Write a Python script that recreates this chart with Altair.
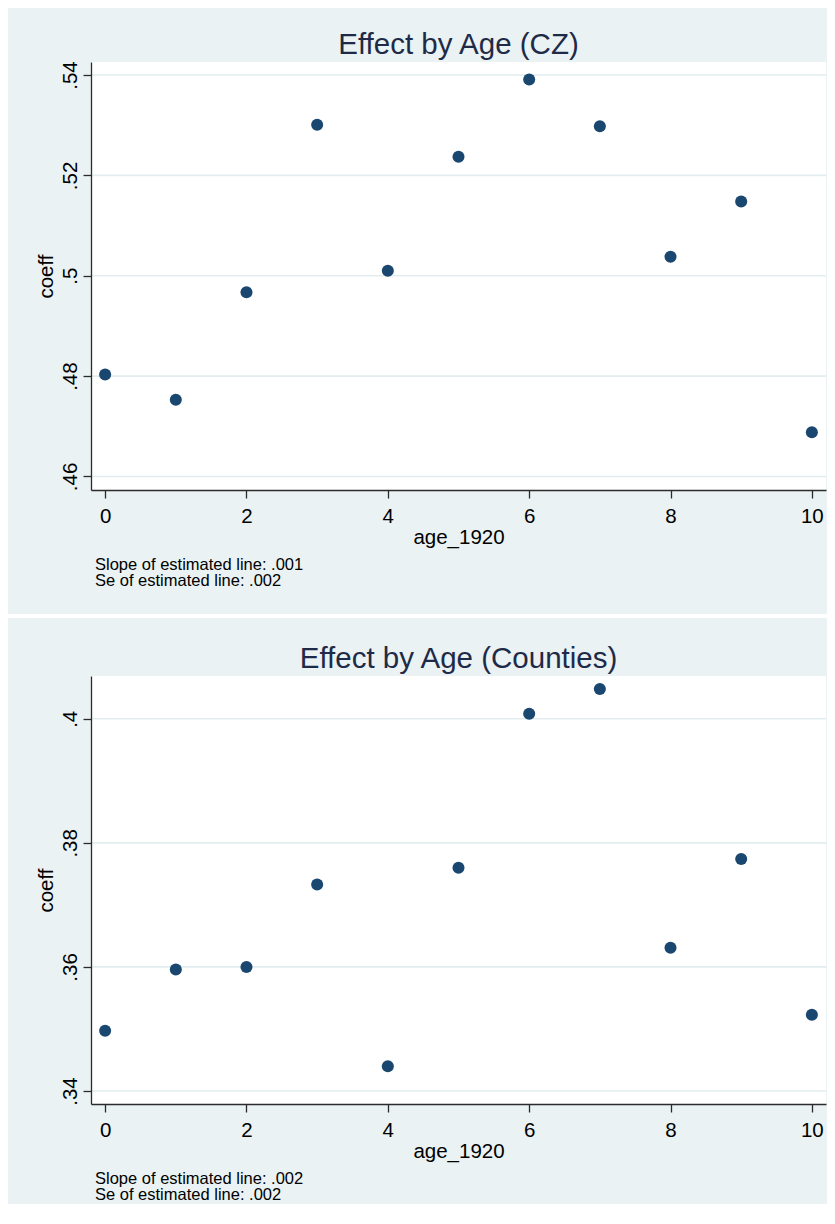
import altair as alt
import pandas as pd

# ---- data ----
ages = [0, 1, 2, 3, 4, 5, 6, 7, 8, 9, 10]
coef_cz = [0.4803, 0.4753, 0.4967, 0.5301, 0.5010, 0.5237, 0.5391, 0.5298, 0.5038, 0.5148, 0.4688]
coef_cty = [0.3497, 0.3596, 0.3600, 0.3733, 0.3440, 0.3760, 0.4008, 0.4048, 0.3631, 0.3774, 0.3523]

x_ticks = [0, 2, 4, 6, 8, 10]
y_ticks_cz = [0.46, 0.48, 0.50, 0.52, 0.54]
y_ticks_cty = [0.34, 0.36, 0.38, 0.40]

title_cz = "Effect by Age (CZ)"
title_cty = "Effect by Age (Counties)"
note_cz = "Slope of estimated line: .001\nSe of estimated line: .002"
note_cty = "Slope of estimated line: .002\nSe of estimated line: .002"

# ---- style ----
FONT = "Liberation Sans"
BG = "#EAF2F3"
NAVY = "#1A476F"
GRID = "#E3EDEF"
AXIS = "#2B2B2B"
TITLE_COLOR = "#1E2B48"
W, H = 735, 428
LEFT_EXT, RIGHT_EXT = 83, 1


def panel(coefs, yticks, ydomain, title, note, top_ext, bottom_ext):
    df = pd.DataFrame({"age_1920": ages, "coeff": coefs})
    grid_df = pd.DataFrame({"coeff": yticks})
    note_df = pd.DataFrame({"note": [note]})
    title_df = pd.DataFrame({"title": [title]})
    one = pd.DataFrame({"k": [0]})

    yscale = alt.Scale(domain=ydomain, nice=False, zero=False)
    xscale = alt.Scale(domain=[-0.2, 10.2], nice=False, zero=False)
    yaxis = alt.Axis(
        values=yticks, title="coeff", grid=False, zindex=1,
        labelExpr="substring(format(datum.value, '.2~f'), 1)",
        labelAngle=270, labelAlign="center", labelBaseline="bottom",
        labelPadding=3, titlePadding=4,
    )
    xaxis = alt.Axis(
        values=x_ticks, title="age_1920", grid=False, zindex=1,
        labelPadding=8, titlePadding=1, labelFlush=False,
    )

    bg = alt.Chart(one).mark_rect(color=BG).encode(
        x=alt.value(-LEFT_EXT), x2=alt.value(W + RIGHT_EXT),
        y=alt.value(-top_ext), y2=alt.value(H + bottom_ext),
    )
    plotbg = alt.Chart(one).mark_rect(color="white").encode(
        x=alt.value(0), x2=alt.value(W), y=alt.value(0), y2=alt.value(H)
    )
    grid = alt.Chart(grid_df).mark_rule(color=GRID, strokeWidth=1.6).encode(
        y=alt.Y("coeff:Q", scale=yscale, axis=yaxis)
    )
    pts = alt.Chart(df).mark_circle(size=145, color=NAVY, opacity=1).encode(
        x=alt.X("age_1920:Q", scale=xscale, axis=xaxis),
        y=alt.Y("coeff:Q", scale=yscale, axis=yaxis),
    )
    ttl = alt.Chart(title_df).mark_text(
        align="center", baseline="alphabetic", font=FONT, fontSize=29.5,
        color=TITLE_COLOR,
    ).encode(x=alt.value(W / 2), y=alt.value(-8.5), text="title:N")
    txt = alt.Chart(note_df).mark_text(
        align="left", baseline="alphabetic", font=FONT, fontSize=16.5,
        lineHeight=16, lineBreak="\n", color="#000000",
    ).encode(x=alt.value(4), y=alt.value(H + 80), text="note:N")

    return alt.layer(bg, plotbg, grid, pts, ttl, txt).properties(width=W, height=H)


top = panel(coef_cz, y_ticks_cz, [0.4573, 0.5426], title_cz, note_cz, 54, 124)
bottom = panel(coef_cty, y_ticks_cty, [0.3379, 0.4069], title_cty, note_cty, 58, 100)

chart = alt.vconcat(top, bottom, spacing=4).properties(
    padding=0, background="white"
).configure_view(
    strokeWidth=0
).configure_axis(
    domainColor=AXIS, domainWidth=1.3, tickColor=AXIS, tickWidth=1.3, tickSize=8,
    labelFont=FONT, labelFontSize=20.5, labelColor="#000000",
    titleFont=FONT, titleFontSize=20.5, titleColor="#000000", titleFontWeight="normal",
    labelOverlap=False,
)

chart.save("out.html", embed_options={"renderer": "svg", "actions": False})
